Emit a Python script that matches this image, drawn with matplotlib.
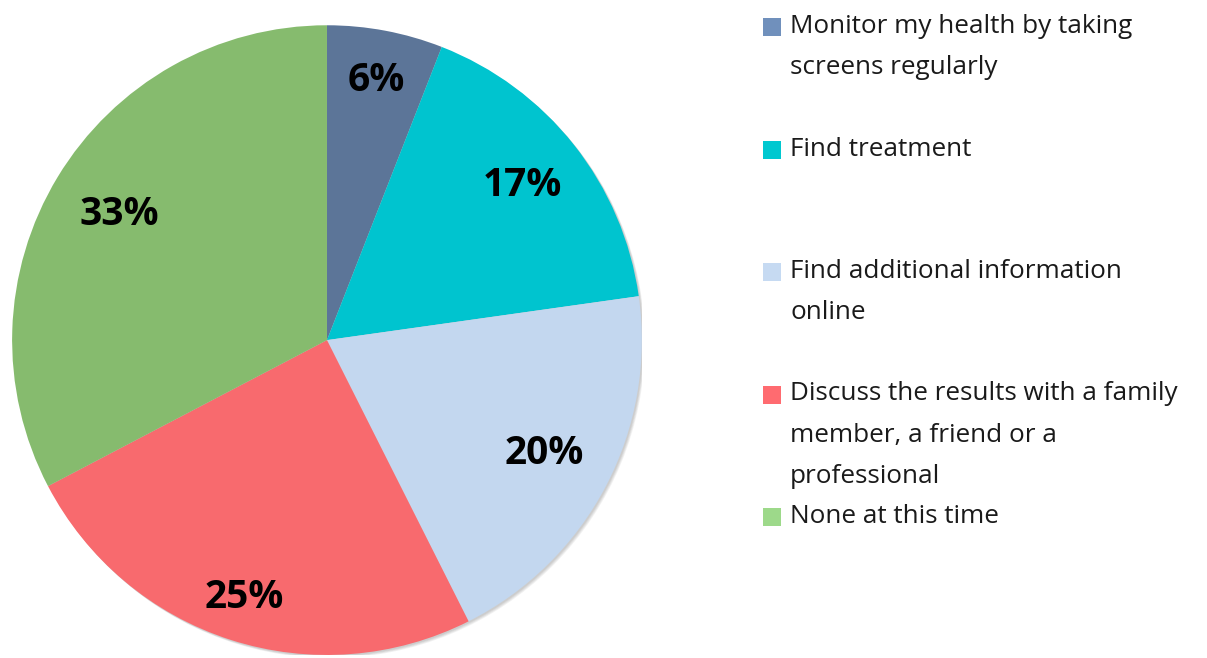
import numpy as np
import matplotlib
matplotlib.use('Agg')
import matplotlib.pyplot as plt
from matplotlib.patches import Rectangle

plt.rcParams['font.family'] = ['Open Sans', 'DejaVu Sans']

labels = ['Monitor my health by taking\nscreens regularly',
          'Find treatment',
          'Find additional information\nonline',
          'Discuss the results with a family\nmember, a friend or a\nprofessional',
          'None at this time']
values = [6, 17, 20, 25, 33]
pct_labels = ['6%', '17%', '20%', '25%', '33%']

slice_colors = ['#5C7598', '#00C4CF', '#C3D7EF', '#F86A6E', '#86BB6E']
legend_colors = ['#7090BC', '#00C8D0', '#C6DAF2', '#FF6B70', '#9DD98A']

fig = plt.figure(figsize=(12.07, 6.58), dpi=100)
ax = fig.add_axes([0.0099, 0.0046, 0.522, 0.957])

# soft shadow under the pie
for i in range(4):
    sh = plt.Circle((0.004 + 0.002 * i, -0.004 - 0.002 * i), 1.0,
                    color='black', alpha=0.05, lw=0, zorder=0)
    ax.add_patch(sh)

wedges, _ = ax.pie(values, colors=slice_colors, startangle=90,
                   counterclock=False, radius=1.0,
                   wedgeprops=dict(linewidth=0))

label_r = [0.84, 0.79, 0.78, 0.86, 0.77]
for w, txt, r in zip(wedges, pct_labels, label_r):
    ang = np.deg2rad((w.theta1 + w.theta2) / 2)
    ax.text(r * np.cos(ang), r * np.sin(ang), txt, ha='center', va='center',
            fontsize=28, fontweight='bold', color='black')

ax.set_xlim(-1, 1)
ax.set_ylim(-1, 1)
ax.set_aspect('equal')
ax.axis('off')

# legend drawn by hand to keep the item spacing of the original
W, H = 1207, 658
for i, (lab, c) in enumerate(zip(labels, legend_colors)):
    y = 27 + 122.5 * i
    fig.add_artist(Rectangle((763 / W, 1 - (y + 9) / H), 18 / W, 18 / H,
                             transform=fig.transFigure, color=c, lw=0))
    fig.text(790 / W, 1 - (y - 13) / H, lab, ha='left', va='top',
             fontsize=18.8, color='#1a1a1a', linespacing=1.85)

plt.savefig('out.png', dpi=100)
plt.close()
